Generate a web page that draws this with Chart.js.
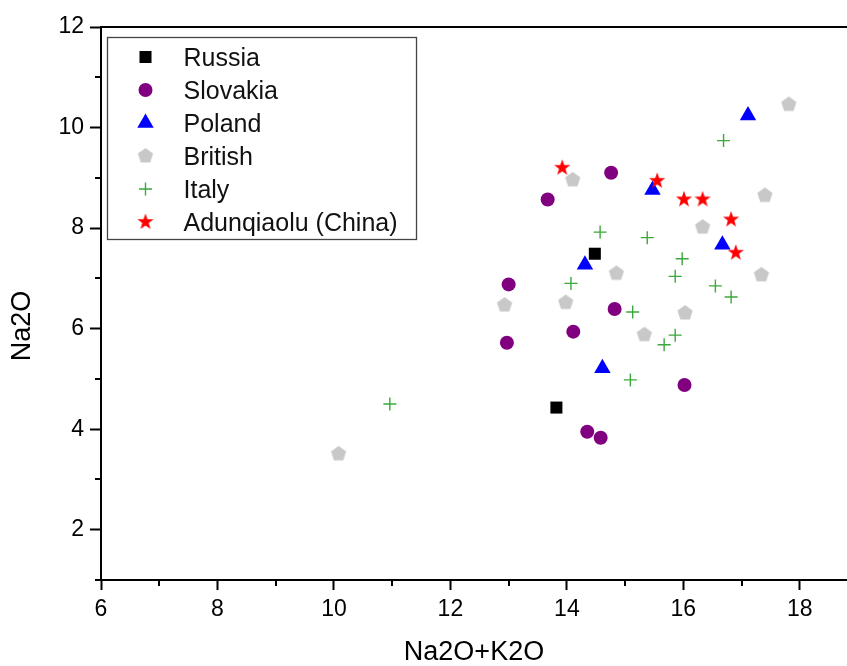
<!DOCTYPE html>
<html>
<head>
<meta charset="utf-8">
<script src="https://cdn.jsdelivr.net/npm/chart.js@4.4.1/dist/chart.umd.min.js"></script>
<style>
  html, body { margin: 0; padding: 0; background: #fff; }
  #wrap { width: 847px; height: 666px; }
</style>
</head>
<body>
<div id="wrap"><canvas id="chart" width="847" height="666"></canvas></div>
<script>
const xTicks = [6, 8, 10, 12, 14, 16, 18];
const xMinorTicks = [7, 9, 11, 13, 15, 17];
const yTicks = [2, 4, 6, 8, 10, 12];
const yMinorTicks = [1, 3, 5, 7, 9, 11];

const russiaX = [14.48, 13.82];
const russiaY = [7.49, 4.43];

const slovakiaX = [13.67, 14.76, 13.0, 14.11, 14.82, 12.97, 14.35, 14.58, 16.02];
const slovakiaY = [8.57, 9.10, 6.88, 5.94, 6.39, 5.72, 3.95, 3.83, 4.88];

const polandX = [17.11, 15.47, 16.67, 14.31, 14.61];
const polandY = [10.24, 8.76, 7.67, 7.27, 5.21];

const britishX = [17.81, 14.10, 17.40, 16.33, 14.85, 17.34, 12.93, 13.98, 16.03, 15.33, 10.08];
const britishY = [10.46, 8.96, 8.65, 8.02, 7.10, 7.07, 6.47, 6.52, 6.31, 5.88, 3.51];

const italyX = [16.69, 14.57, 15.38, 15.98, 15.86, 14.07, 16.55, 16.82, 15.13, 15.86, 15.67, 15.09, 10.96];
const italyY = [9.74, 7.92, 7.81, 7.39, 7.04, 6.90, 6.85, 6.63, 6.33, 5.87, 5.68, 4.98, 4.50];

const chinaX = [13.92, 15.55, 16.01, 16.33, 16.82, 16.90];
const chinaY = [9.20, 8.94, 8.57, 8.57, 8.17, 7.51];

const FONT = "'Liberation Sans', Arial, sans-serif";

function points(xs, ys) {
  return xs.map((x, i) => ({ x, y: ys[i] }));
}

// Chart.js has no pentagon or five-point star, so build them as small canvases
function makePentagon(r, color) {
  const size = Math.ceil(r) * 2 + 2;
  const c = document.createElement("canvas");
  c.width = size; c.height = size;
  const ctx = c.getContext("2d");
  ctx.fillStyle = color;
  ctx.beginPath();
  for (let k = 0; k < 5; k++) {
    const a = -Math.PI / 2 + k * 2 * Math.PI / 5;
    const px = size / 2 + r * Math.cos(a);
    const py = size / 2 + r * Math.sin(a);
    k === 0 ? ctx.moveTo(px, py) : ctx.lineTo(px, py);
  }
  ctx.closePath();
  ctx.fill();
  return c;
}

function makeStar(r, color) {
  const size = Math.ceil(r) * 2 + 2;
  const inner = r * 0.4;
  const c = document.createElement("canvas");
  c.width = size; c.height = size;
  const ctx = c.getContext("2d");
  ctx.fillStyle = color;
  ctx.beginPath();
  for (let k = 0; k < 10; k++) {
    const a = -Math.PI / 2 + k * Math.PI / 5;
    const rr = k % 2 === 0 ? r : inner;
    const px = size / 2 + rr * Math.cos(a);
    const py = size / 2 + rr * Math.sin(a);
    k === 0 ? ctx.moveTo(px, py) : ctx.lineTo(px, py);
  }
  ctx.closePath();
  ctx.fill();
  return c;
}

const pentagon = makePentagon(8, "#c8c8c8");
const star = makeStar(8.5, "#ff0000");

const frameAndMinor = {
  id: "frameAndMinor",
  afterDraw(chart) {
    const { ctx, chartArea } = chart;
    const xs = chart.scales.x, ys = chart.scales.y;
    ctx.save();
    ctx.strokeStyle = "#000";
    ctx.lineWidth = 2;
    ctx.beginPath();
    ctx.moveTo(chartArea.left - 1, chartArea.top);
    ctx.lineTo(chartArea.right, chartArea.top);
    xMinorTicks.forEach(v => {
      const px = Math.round(xs.getPixelForValue(v));
      ctx.moveTo(px, chartArea.bottom);
      ctx.lineTo(px, chartArea.bottom + 6);
    });
    yMinorTicks.forEach(v => {
      const py = Math.round(ys.getPixelForValue(v));
      ctx.moveTo(chartArea.left, py);
      ctx.lineTo(chartArea.left - 6, py);
    });
    ctx.stroke();
    ctx.restore();
  }
};

const boxLegend = {
  id: "boxLegend",
  afterDraw(chart) {
    const { ctx, chartArea } = chart;
    const left = chartArea.left + 6.5;
    const top = chartArea.top + 10.5;
    const width = 309, height = 202;
    const rowGap = 33;
    ctx.save();
    ctx.fillStyle = "#fff";
    ctx.fillRect(left, top, width, height);
    ctx.strokeStyle = "#444";
    ctx.lineWidth = 1.3;
    ctx.strokeRect(left, top, width, height);
    chart.data.datasets.forEach((ds, i) => {
      const cy = top + 19.5 + i * rowGap;
      const cx = left + 38;
      ctx.fillStyle = ds.backgroundColor;
      ctx.strokeStyle = ds.borderColor;
      ctx.lineWidth = ds.borderWidth || 0;
      Chart.helpers.drawPoint(ctx, {
        pointStyle: ds.pointStyle,
        radius: ds.pointRadius,
        rotation: 0,
        borderWidth: ds.borderWidth || 0
      }, cx, cy);
      ctx.fillStyle = "#111";
      ctx.font = "25px " + FONT;
      ctx.textBaseline = "alphabetic";
      ctx.textAlign = "left";
      ctx.fillText(ds.label, left + 76, cy + 9);
    });
    ctx.restore();
  }
};

const tickFont = { family: FONT, size: 23 };

new Chart(document.getElementById("chart"), {
  type: "scatter",
  data: {
    datasets: [
      { label: "Russia", data: points(russiaX, russiaY), pointStyle: "rect", pointRadius: 8.5,
        backgroundColor: "#000", borderColor: "#000", borderWidth: 0, order: 6 },
      { label: "Slovakia", data: points(slovakiaX, slovakiaY), pointStyle: "circle", pointRadius: 7,
        backgroundColor: "#800080", borderColor: "#800080", borderWidth: 0, order: 5 },
      { label: "Poland", data: points(polandX, polandY), pointStyle: "triangle", pointRadius: 9.5,
        backgroundColor: "#0000ff", borderColor: "#0000ff", borderWidth: 0, order: 4 },
      { label: "British", data: points(britishX, britishY), pointStyle: pentagon, pointRadius: 8,
        backgroundColor: "#c8c8c8", borderColor: "#c8c8c8", borderWidth: 0, order: 3 },
      { label: "Italy", data: points(italyX, italyY), pointStyle: "cross", pointRadius: 6.5,
        backgroundColor: "#3aa83a", borderColor: "#3aa83a", borderWidth: 1.4, order: 2 },
      { label: "Adunqiaolu (China)", data: points(chinaX, chinaY), pointStyle: star, pointRadius: 8.5,
        backgroundColor: "#ff0000", borderColor: "#ff0000", borderWidth: 0, order: 1 }
    ]
  },
  options: {
    responsive: false,
    animation: false,
    events: [],
    layout: { autoPadding: false, padding: { top: 27, right: 0, left: 0, bottom: 0 } },
    plugins: { legend: { display: false }, tooltip: { enabled: false } },
    scales: {
      x: {
        type: "linear",
        min: 6,
        max: 18.81,
        afterBuildTicks: s => { s.ticks = xTicks.map(v => ({ value: v })); },
        afterFit: s => { s.height = 86; },
        ticks: { font: tickFont, color: "#000", padding: 6, maxRotation: 0, autoSkip: false },
        grid: { drawOnChartArea: false, drawTicks: true, tickLength: 10, tickWidth: 2, tickColor: "#000" },
        border: { display: true, color: "#000", width: 2 },
        title: { display: true, text: "Na2O+K2O", color: "#000",
          font: { family: FONT, size: 27, lineHeight: 1 }, padding: { top: 0, bottom: 0 } }
      },
      y: {
        type: "linear",
        min: 1,
        max: 12,
        afterBuildTicks: s => { s.ticks = yTicks.map(v => ({ value: v })); },
        afterFit: s => { s.width = 101; },
        ticks: { font: tickFont, color: "#000", padding: 6 },
        grid: { drawOnChartArea: false, drawTicks: true, tickLength: 11, tickWidth: 2, tickColor: "#000" },
        border: { display: true, color: "#000", width: 2 },
        title: { display: true, text: "Na2O      ", color: "#000",
          font: { family: FONT, size: 27, lineHeight: 1 }, padding: { top: 9.5, bottom: 0 } }
      }
    }
  },
  plugins: [frameAndMinor, boxLegend]
});
</script>
</body>
</html>
